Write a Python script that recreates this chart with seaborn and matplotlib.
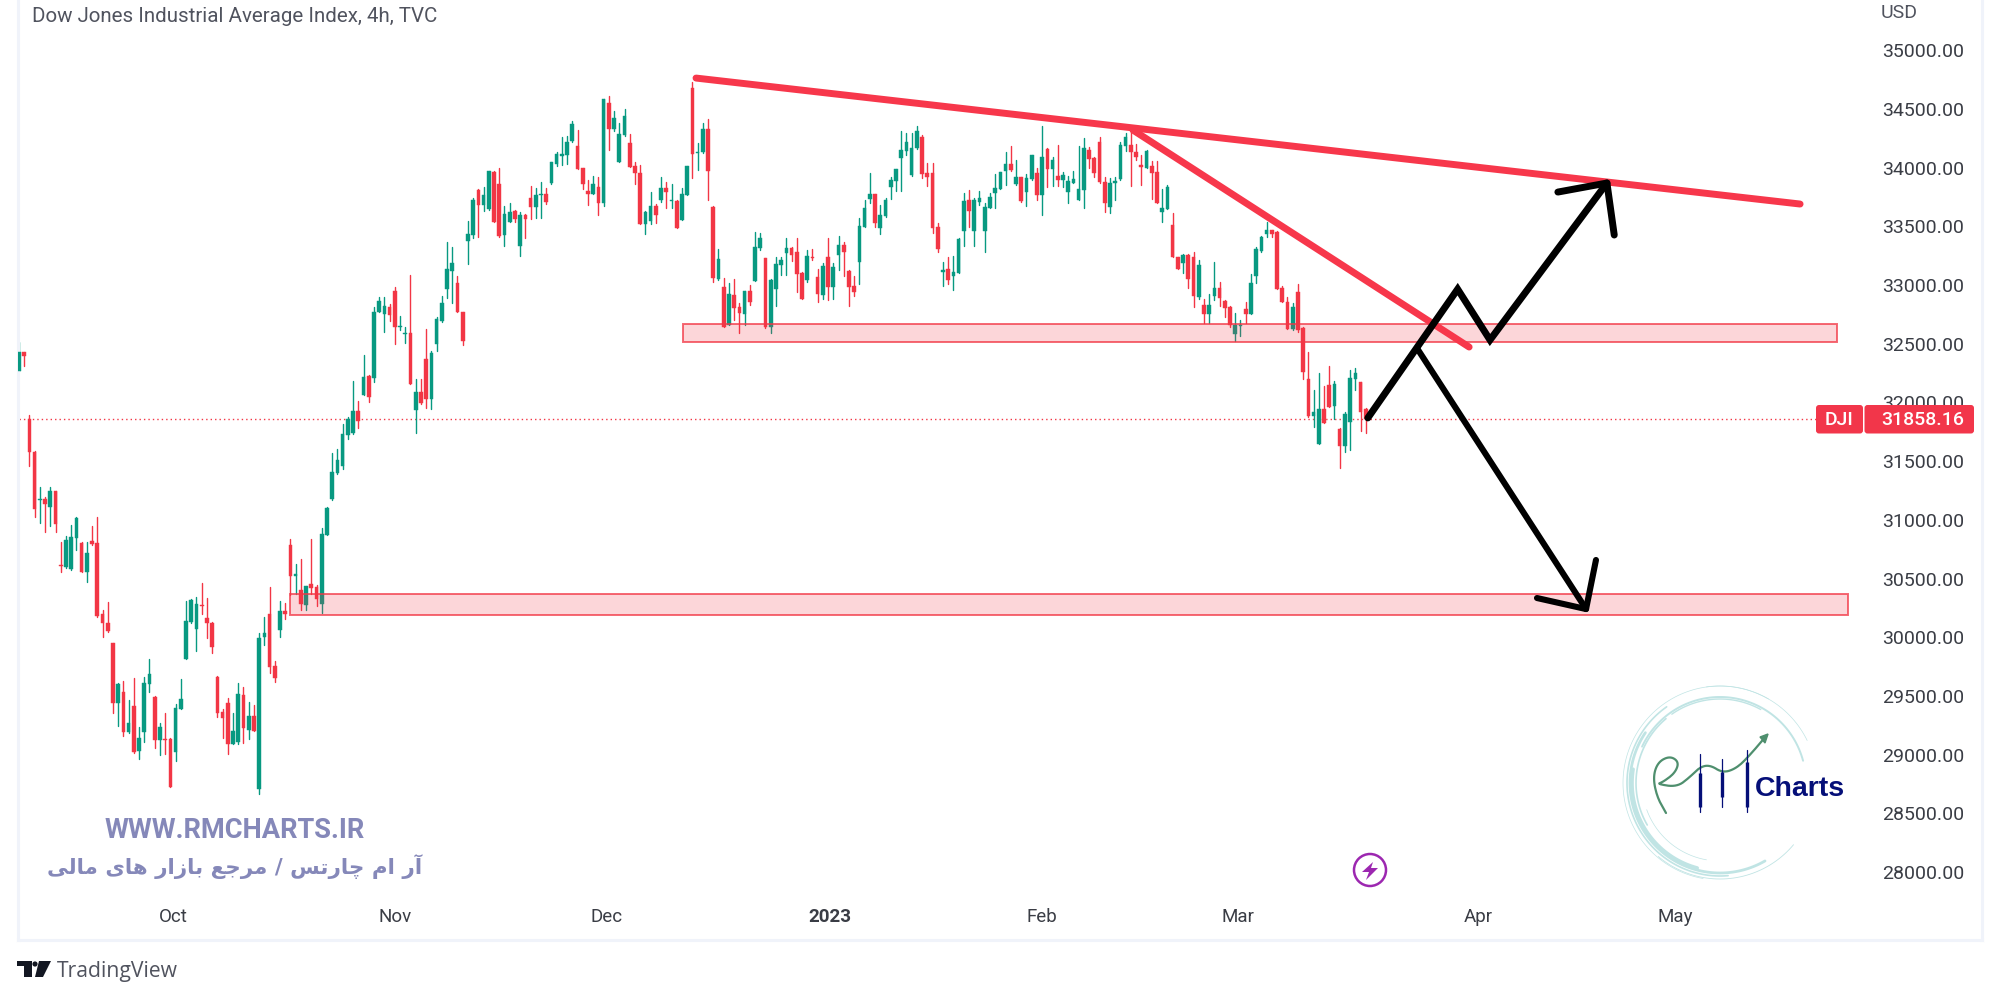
import numpy as np
import pandas as pd
import seaborn as sns
import matplotlib.pyplot as plt
from matplotlib.patches import Rectangle, Polygon, Circle, FancyBboxPatch

# 4h candles
opens = [32267,32426,31856,31580,31171,31177,31112,31245,30612,30601,
	30578,30848,30805,30558,30817,30805,30195,30124,29954,29437,
	29536,29190,29417,29034,29193,29599,29494,29124,29130,29133,
	29022,29391,29817,30130,30073,30274,30161,30124,29664,29360,
	29443,29090,29110,29511,29207,29329,28707,29999,30195,29755,
	30061,30226,30783,30524,30402,30274,30456,30430,30280,30870,
	31177,31396,31458,31725,31736,31927,32063,32222,32211,32768,
	32754,32816,32947,32640,32580,32589,31936,32092,32370,32027,
	32498,32694,32964,33123,33015,32774,33378,33424,33813,33679,
	33651,33966,33861,33424,33540,33631,33333,33594,33744,33665,
	33770,33779,33872,34034,34099,34108,34224,34185,33997,33801,
	33773,33835,33702,34554,34326,34051,34278,34207,34011,33952,
	33517,33549,33676,33722,33824,33713,33719,33551,33770,34681,
	34122,34133,34332,33665,33055,32981,32660,32913,32810,32754,
	32947,33032,33313,33228,32640,32964,33171,33270,33319,33284,
	33100,33040,33242,33071,32915,33236,32986,33253,33338,33122,
	32992,33193,33494,33736,33778,33483,33591,33838,33886,34079,
	34142,33934,34164,34264,33951,33951,33491,33114,33134,33080,
	33100,33460,33724,33460,33710,33460,33659,33781,33818,33968,
	34034,33861,33917,33795,33900,33951,33770,34159,33991,33929,
	33895,33795,33872,33724,33807,34150,34082,34221,33880,33668,
	33866,33900,34187,34193,34136,34022,34000,34014,33966,33619,
	33645,33511,33242,33185,33259,33242,32901,32830,32753,32904,
	32972,32864,32810,32580,32651,32793,32753,33080,33293,33435,
	33466,33455,32972,32858,32626,32944,32637,32197,31885,31646,
	31941,32149,31970,31771,31632,31836,32200,32171,31944]
highs = [32517,32432,31893,31589,31282,31197,31282,31248,30808,30865,
	30956,31027,30808,30808,30947,31027,30232,30297,29954,29607,
	29627,29465,29650,29232,29664,29812,29499,29266,29352,29139,
	29428,29641,30311,30323,30345,30459,30334,30127,29670,29386,
	29479,29352,29607,29579,29451,29420,30033,30175,30425,29800,
	30308,30288,30839,30621,30669,30436,30834,30442,30933,31112,
	31572,31603,31813,31878,32185,32009,32404,32230,32810,32896,
	32898,32839,32981,32739,32646,33086,32197,32197,32623,32439,
	32725,32910,33364,33327,33077,32774,33546,33744,33815,33838,
	33974,33969,34000,33676,33696,33639,33625,33605,33847,33824,
	33881,33827,34051,34136,34264,34273,34400,34321,34000,33895,
	33929,33918,34588,34610,34485,34378,34497,34287,34045,34020,
	33631,33790,33688,33918,33881,33861,33725,33827,34017,34727,
	34207,34378,34414,33674,33304,33063,33015,33049,32845,32952,
	33003,33455,33446,33231,33049,33236,33236,33398,33327,33398,
	33114,33298,33304,33134,33185,33398,33185,33421,33369,33128,
	33080,33574,33724,33951,33778,33682,33738,33923,33988,34312,
	34298,34292,34357,34278,34037,34037,33526,33199,33236,33250,
	33398,33781,33809,33738,33804,33696,33781,33943,33966,34136,
	34184,34065,33917,33946,34108,33994,34357,34164,34093,34193,
	33966,33929,33974,34184,34255,34179,34088,34258,33917,33909,
	33923,34221,34292,34320,34198,34108,34150,34056,34056,33815,
	33855,33616,33242,33262,33264,33281,33213,32878,32924,33199,
	33029,32873,32821,32759,32702,32853,33094,33327,33421,33540,
	33469,33463,32992,32901,32844,33006,32640,32427,32106,32254,
	32140,32310,32183,31780,31922,32276,32291,32177,31950]
lows = [32267,32313,31461,31027,30976,30893,30950,30893,30555,30592,
	30570,30743,30558,30473,30785,30175,30003,30047,29352,29247,
	29159,29181,29017,28963,29110,29536,29054,28997,29005,28721,
	28949,29386,29817,30118,29885,30198,29990,29863,29318,29144,
	29005,29088,29088,29102,29136,29204,28662,29934,29692,29619,
	29999,30152,30359,30368,30232,30232,30368,30269,30209,30868,
	31169,31390,31433,31688,31731,31782,32063,32000,32177,32768,
	32603,32697,32498,32617,32509,32155,31737,31987,31956,31945,
	32441,32683,32893,32845,32768,32487,33182,33398,33412,33631,
	33639,33540,33412,33333,33540,33540,33250,33401,33563,33574,
	33574,33691,33864,34014,34026,34031,34219,33992,33815,33679,
	33773,33597,33676,34153,34315,34051,34270,34003,33861,33517,
	33438,33517,33526,33710,33654,33654,33483,33551,33764,33909,
	33980,34128,33725,33029,33043,32646,32660,32703,32589,32660,
	32830,33032,33299,32632,32589,32822,33086,33086,33205,32938,
	32881,33029,33213,32858,32881,32873,32881,33128,33077,32824,
	32907,33009,33491,33702,33491,33435,33582,33730,33804,33804,
	34108,33929,34159,33909,33844,33446,33284,32992,33006,32961,
	33100,33333,33491,33333,33682,33284,33653,33659,33818,33852,
	33974,33849,33710,33676,33895,33724,33597,33832,33844,33844,
	33832,33702,33866,33724,33653,33994,33923,33866,33619,33611,
	33724,33895,34142,33844,34065,33852,34000,33733,33702,33540,
	33645,33242,33137,33100,32972,32810,32881,32674,32674,32873,
	32821,32731,32646,32521,32566,32680,32753,33020,33284,33412,
	33406,32963,32858,32623,32617,32603,32197,31879,31788,31646,
	31822,31964,31859,31439,31575,31595,32106,31760,31737]
closes = [32426,32395,31575,31089,31177,31137,31245,30961,30604,30828,
	30853,31018,30558,30714,30794,30181,30118,30056,29437,29601,
	29190,29266,29025,29139,29607,29687,29124,29232,29124,28727,
	29394,29477,30135,30320,30286,30269,30118,29919,29352,29309,
	29090,29201,29513,29227,29329,29204,29996,30033,29749,29655,
	30226,30198,30521,30541,30280,30436,30419,30328,30876,31100,
	31407,31512,31731,31858,31927,31841,32213,32049,32774,32864,
	32819,32742,32640,32654,32589,32155,32092,31998,32027,32419,
	32708,32845,33134,33191,32768,32524,33432,33722,33679,33767,
	33969,33540,33421,33605,33625,33560,33594,33566,33665,33767,
	33779,33710,34048,34114,34114,34219,34369,33992,33861,33773,
	33861,33702,34588,34326,34426,34287,34437,34003,33955,33517,
	33620,33674,33597,33824,33793,33722,33483,33779,34011,34119,
	34136,34332,33969,33057,33222,32646,32921,32802,32765,32950,
	32856,33327,33398,32640,33040,33179,33214,33316,33253,33091,
	32881,33247,33227,32921,33165,32986,33151,33338,33284,32986,
	32941,33503,33653,33778,33526,33594,33724,33895,33986,34150,
	34221,34170,34309,33946,33920,33483,33307,33128,33043,33108,
	33389,33719,33633,33724,33744,33668,33753,33824,33963,34034,
	33980,33917,33719,33909,34108,33767,34091,33986,34065,33895,
	33937,33886,33906,33815,34170,34071,33951,33875,33702,33872,
	33883,34196,34264,34130,34088,34003,34142,33957,33702,33653,
	33838,33242,33137,33259,33051,32904,33171,32753,32830,32972,
	32892,32802,32657,32657,32660,32753,33015,33307,33412,33466,
	33435,32963,32858,32626,32810,32617,32257,31885,31919,31941,
	31822,31964,32157,31632,31899,32205,32254,31922,31858]

last_price = 31858.16
price_ticks = [28000,28500,29000,29500,30000,30500,31000,31500,32000,32500,33000,33500,34000,34500,35000]
month_labels = ['Oct','Nov','Dec','2023','Feb','Mar','Apr','May']
month_pos = [29.5,72,112.6,155.4,196,233.5,279.5,317.2]

# drawings on the chart, bar number / price
trend1_x = [129.7,341.2]
trend1_y = [34763,33690]
trend2_x = [213.4,277.8]
trend2_y = [34320,32472]
zone1_x = [127.2,348.3]
zone1_y = [32515,32668]
zone2_x = [51.9,350.4]
zone2_y = [30189,30368]
up_x = [258.4,275.6,281.8,304.2]
up_y = [31868,32965,32532,33869]
up_head_x = [294.8,304.2,305.6]
up_head_y = [33792,33869,33426]
down_x = [267.8,300.2]
down_y = [32463,30240]
down_head_x = [290.8,300.2,302.1]
down_head_y = [30334,30240,30658]

red = '#f23645'
green = '#089981'
border = '#f0f3fa'
wm_color = '#8588b9'
logo_navy = '#050f78'
logo_teal = '#c0e4e4'

def drawCandles(ax, df):
	wicks = df.melt(id_vars=['bar','side'], value_vars=['high','low'], value_name='price')
	sns.lineplot(data=wicks, x='bar', y='price', units='bar', estimator=None, hue='side',
		palette={'up':green,'down':red}, legend=False, linewidth=1.0, ax=ax, zorder=2)
	ax.bar(df['bar'], (df['close']-df['open']).abs(), bottom=df[['open','close']].min(axis=1), width=0.7,
		color=df['side'].map({'up':green,'down':red}), edgecolor=df['side'].map({'up':green,'down':red}),
		linewidth=0.3, zorder=3)

def drawZone(ax, xs, ys):
	rect = Rectangle((xs[0],ys[0]), xs[1]-xs[0], ys[1]-ys[0], facecolor=(0.949,0.212,0.271,0.2),
		edgecolor=(0.949,0.212,0.271,0.75), linewidth=1.4, zorder=4)
	ax.add_patch(rect)

def ring(ov, cx, cy, r, start, end, lw):
	a = np.radians(np.arange(start, end+1, 2))
	ov.plot(cx+r*np.cos(a), cy+r*np.sin(a), color=logo_teal, lw=lw, solid_capstyle='round')

def smooth(xs, ys, rounds=3):
	# corner cutting so the pen stroke in the logo is not angular
	pts = np.column_stack([xs,ys]).astype(float)
	for i in range(rounds):
		a = pts[:-1]*0.75+pts[1:]*0.25
		b = pts[:-1]*0.25+pts[1:]*0.75
		mid = np.empty((a.shape[0]*2,2))
		mid[0::2] = a
		mid[1::2] = b
		pts = np.vstack([pts[0],mid,pts[-1]])
	return pts[:,0], pts[:,1]

def drawLogo(ov):
	cx, cy = 1720, 783
	ring(ov, cx, cy, 97, 100, 300, 0.5)
	ring(ov, cx, cy, 97, 262, 335, 0.5)
	ring(ov, cx, cy, 96, 40, 130, 0.6)
	ring(ov, cx, cy, 93, 85, 235, 1.2)
	ring(ov, cx, cy, 90, 60, 215, 2.0)
	ring(ov, cx, cy, 88, 105, 190, 2.6)
	ring(ov, cx, cy, 84, 150, 230, 1.2)
	ring(ov, cx, cy, 86, 205, 345, 1.4)
	ring(ov, cx, cy, 84, 235, 300, 1.0)
	ring(ov, cx, cy, 78, 100, 160, 0.5)
	curve_x = [1666,1657,1653,1658,1670,1679,1675,1663,1657,1677,1690,1700,1710,1723,1737,1750,1767]
	curve_y = [813,797,777,762,756,762,773,782,784,787,777,767,765,773,768,755,735]
	sx, sy = smooth(curve_x, curve_y)
	ov.plot(sx, sy, color='#4f8f6e', lw=1.6, solid_joinstyle='round')
	ov.add_patch(Polygon([[1768,734],[1760,737],[1765,743]], color='#4f8f6e'))
	for x, top, b1, b2, bot in [(1700,754,773,807,812),(1722,759,772,797,807),(1747,750,762,807,812)]:
		ov.plot([x,x], [top,bot], color=logo_navy, lw=0.9)
		ov.plot([x,x], [b1,b2], color=logo_navy, lw=2.4, solid_capstyle='butt')
	ov.text(1755, 789, 'Charts', color=logo_navy, fontsize=20.5, fontweight='bold', va='center', ha='left',
		family='Liberation Sans')

def drawFooter(ov):
	ov.add_patch(Rectangle((17,961), 15, 5, color='#131722', lw=0))
	ov.add_patch(Rectangle((24,961), 7.5, 16, color='#131722', lw=0))
	ov.add_patch(Circle((35,964), 2.6, color='#131722', lw=0))
	ov.add_patch(Polygon([[39,961],[51,961],[43,977],[35,977]], color='#131722', lw=0))
	ov.text(57, 971, 'TradingView', color='#50535e', fontsize=15.2, va='center', ha='left', family='Open Sans')

def logic():
	sns.set_theme(style='white')
	plt.rcParams['font.family'] = ['Roboto','DejaVu Sans']

	df = pd.DataFrame({'open':opens,'high':highs,'low':lows,'close':closes})
	df['bar'] = np.arange(len(df))
	df['side'] = np.where(df['close']>=df['open'],'up','down')

	fig = plt.figure(figsize=(20,10), dpi=100, facecolor='white')
	ax = fig.add_axes([0.009,0.06,0.982,0.94])
	drawCandles(ax, df)
	drawZone(ax, zone1_x, zone1_y)
	drawZone(ax, zone2_x, zone2_y)
	ax.hlines(last_price, 0, 344.3, color=red, lw=1.0, linestyles=(0,(1,2.2)), zorder=1)

	ax.plot(trend1_x, trend1_y, color='#f7374b', lw=5.0, solid_capstyle='round', zorder=5)
	ax.plot(trend2_x, trend2_y, color='#f7374b', lw=5.0, solid_capstyle='round', zorder=5)
	ax.plot(up_x, up_y, color='black', lw=5.0, solid_capstyle='round', solid_joinstyle='miter', zorder=6)
	ax.plot(up_head_x, up_head_y, color='black', lw=5.0, solid_capstyle='round', zorder=6)
	ax.plot(down_x, down_y, color='black', lw=4.4, solid_capstyle='round', zorder=6)
	ax.plot(down_head_x, down_head_y, color='black', lw=4.4, solid_capstyle='round', zorder=6)

	ax.set_xlim(-0.19,376.05)
	ax.set_ylim(27421,35428)
	ax.set_xlabel('')
	ax.set_ylabel('')

	ax.yaxis.tick_right()
	ax.set_yticks(price_ticks)
	ax.set_yticklabels(['%.2f' % p for p in price_ticks])
	ax.tick_params(axis='y', length=0, pad=-72, labelsize=14, labelcolor='#3a3d45')
	ax.set_xticks(month_pos)
	ax.set_xticklabels(month_labels)
	ax.tick_params(axis='x', length=0, pad=-23, labelsize=13.5, labelcolor='#3a3d45')
	ax.get_xticklabels()[3].set_fontweight('bold')

	for side in ['left','right','bottom']:
		ax.spines[side].set_color(border)
		ax.spines[side].set_linewidth(2.2)
	ax.spines['top'].set_visible(False)

	# overlay in image pixels for the texts, tag and logos
	ov = fig.add_axes([0,0,1,1])
	ov.set_xlim(0,2000)
	ov.set_ylim(1000,0)
	ov.axis('off')
	ov.patch.set_alpha(0)

	ov.text(32, 17, 'Dow Jones Industrial Average Index, 4h, TVC', color='#50535e', fontsize=14.8, va='center', ha='left')
	ov.text(1881, 13, 'USD', color='#50535e', fontsize=14, va='center', ha='left')

	ov.add_patch(FancyBboxPatch((1816,405), 47, 28.5, boxstyle='round,pad=0,rounding_size=3', color='#f2364a', lw=0))
	ov.add_patch(FancyBboxPatch((1864.5,405), 109.5, 28.5, boxstyle='round,pad=0,rounding_size=3', color='#f2364a', lw=0))
	ov.text(1839, 420, 'DJI', color='white', fontsize=14, fontweight='medium', va='center', ha='center')
	ov.text(1964, 420, '%.2f' % last_price, color='white', fontsize=14, fontweight='medium', va='center', ha='right')

	ov.text(105, 830, 'WWW.RMCHARTS.IR', color=wm_color, fontsize=19.6, fontweight='bold', va='center', ha='left')
	# matplotlib does no arabic shaping, so this is the persian line in presentation forms, visual order
	fa_text = ('\ufbfd\ufedf\ufe8e\ufee3 \ufbfc\ufe8e\ufeeb \ufead\ufe8d\ufeaf\ufe8e\ufe91 \ufeca\ufe9f\ufeae\ufee3 / '
		'\ufeb2\ufe97\ufead\ufe8e\ufb7c \ufee1\ufe8d \ufead\ufe81')
	ov.text(47, 867, fa_text, color=wm_color, fontsize=15.4, fontweight='bold', va='center', ha='left', family='DejaVu Sans')

	ov.add_patch(Circle((1370,870), 16, facecolor='white', edgecolor='#9c27b0', lw=1.8))
	ov.add_patch(Polygon([[1373,862],[1362,872],[1369,872],[1366,880],[1378,868],[1371,868]], color='#9c27b0', lw=0))

	drawLogo(ov)
	drawFooter(ov)

	fig.savefig('out.png', dpi=100)

if __name__ == "__main__":
	logic()
